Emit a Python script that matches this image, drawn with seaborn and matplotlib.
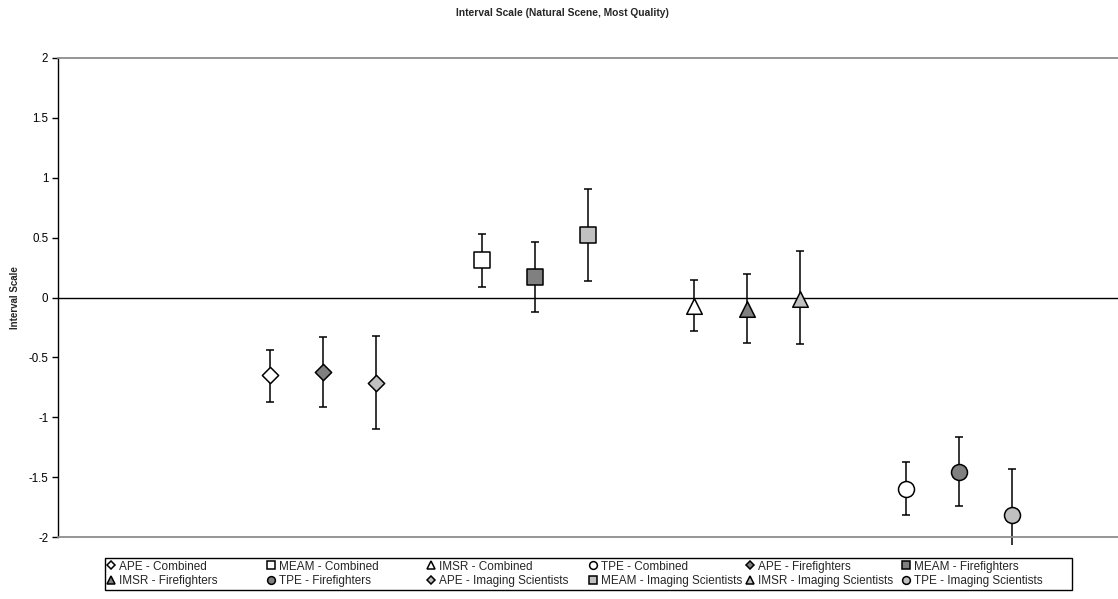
import numpy as np
import pandas as pd
import matplotlib
matplotlib.use("Agg")
import matplotlib.pyplot as plt
import seaborn as sns
from matplotlib.lines import Line2D
from matplotlib.patches import Rectangle
from matplotlib.transforms import Bbox, TransformedBbox

# ---- data ----
methods = ["APE", "MEAM", "IMSR", "TPE"]
groups = ["Combined", "Firefighters", "Imaging Scientists"]
mean_combined = [-0.65, 0.315, -0.07, -1.60]
upper_combined = [-0.437, 0.53, 0.15, -1.375]
lower_combined = [-0.874, 0.09, -0.28, -1.818]
mean_firefighters = [-0.62, 0.17, -0.10, -1.456]
upper_firefighters = [-0.33, 0.46, 0.20, -1.167]
lower_firefighters = [-0.913, -0.12, -0.38, -1.745]
mean_scientists = [-0.71, 0.526, -0.01, -1.815]
upper_scientists = [-0.32, 0.91, 0.385, -1.428]
lower_scientists = [-1.097, 0.14, -0.39, -2.20]
y_ticks = [-2, -1.5, -1, -0.5, 0, 0.5, 1, 1.5, 2]
y_tick_labels = ["-2", "-1.5", "-1", "-0.5", "0", "0.5", "1", "1.5", "2"]

means = [mean_combined, mean_firefighters, mean_scientists]
uppers = [upper_combined, upper_firefighters, upper_scientists]
lowers = [lower_combined, lower_firefighters, lower_scientists]

rows = []
for j, g in enumerate(groups):
    for i, m in enumerate(methods):
        rows.append(dict(method=m, group=g, x=1 + 4 * i + j,
                         y=means[j][i], lo=lowers[j][i], hi=uppers[j][i]))
df = pd.DataFrame(rows)

markers = {"APE": "D", "MEAM": "s", "IMSR": "^", "TPE": "o"}
msize = {"APE": 8.3, "MEAM": 11, "IMSR": 11.2, "TPE": 11.5}
fills = {"Combined": "#ffffff", "Firefighters": "#808080", "Imaging Scientists": "#c0c0c0"}

sns.set_theme(style="white")
plt.rcParams["font.family"] = ["Liberation Sans", "DejaVu Sans"]

fig = plt.figure(figsize=(11.18, 5.99), dpi=100)
ax = fig.add_axes([58 / 1118, 62 / 599, 1 - 58 / 1118, (537 - 58) / 599])
ax.set_xlim(-3, 17)
ax.set_ylim(-2, 2)

clip = TransformedBbox(Bbox([[-3, -2.065], [17, 2.5]]), ax.transData)

for _, r in df.iterrows():
    cont = ax.errorbar(r.x, r.y, yerr=[[r.y - r.lo], [r.hi - r.y]], fmt="none",
                       ecolor="black", elinewidth=1.1, capsize=3.2, capthick=1.1, zorder=2)
    for art in list(cont.lines[1]) + list(cont.lines[2]):
        art.set_clip_on(True)
        art.set_clip_box(clip)

for (m, g), sub in df.groupby(["method", "group"], sort=False):
    sns.scatterplot(data=sub, x="x", y="y", ax=ax, marker=markers[m],
                    s=msize[m] ** 2, color=fills[g], edgecolor="black",
                    linewidth=1.1, zorder=3, legend=False)

ax.axhline(0, color="black", lw=1, zorder=1)
ax.spines["right"].set_visible(False)
ax.spines["left"].set_color("black")
ax.spines["left"].set_linewidth(1)
ax.spines["top"].set_color("#8c8c8c")
ax.spines["top"].set_linewidth(1.3)
ax.spines["bottom"].set_color("#8c8c8c")
ax.spines["bottom"].set_linewidth(1.3)
ax.set_xticks([])
ax.set_yticks(y_ticks)
ax.set_yticklabels(y_tick_labels, fontsize=8.3)
ax.tick_params(axis="y", left=True, direction="out", length=4, width=1, pad=3, colors="black")
ax.set_xlabel("")
ax.set_ylabel("Interval Scale", fontsize=7, fontweight="bold", labelpad=14)
ax.yaxis.set_label_coords(-38 / 1060, 0.5)

fig.text(562 / 1118, 1 - 13 / 599, "Interval Scale (Natural Scene, Most Quality)",
         ha="center", va="center", fontsize=7.4, fontweight="bold")

# ---- legend: 6 equal-width columns, 2 rows ----
entries = []
for g in groups:
    for m in methods:
        entries.append((m, g))
ncol = 6
col_x = [106, 266, 426, 588, 745, 901]
for c in range(ncol):
    hs, ls = [], []
    for rrow in range(2):
        m, g = entries[rrow * ncol + c]
        lm = {"APE": 4.0, "MEAM": 5.4, "IMSR": 5.6, "TPE": 5.6}[m]
        hs.append(Line2D([], [], ls="none", marker=markers[m], markersize=lm,
                         markerfacecolor=fills[g], markeredgecolor="black", markeredgewidth=1.1))
        ls.append(f"{m} - {g}")
    fig.legend(hs, ls, loc="center left", bbox_to_anchor=(col_x[c] / 1118, 1 - 574 / 599),
               frameon=False, fontsize=8.5, handlelength=0.9, handletextpad=0.2,
               borderpad=0, borderaxespad=0, labelspacing=0.25)
fig.patches.append(Rectangle((105 / 1118, 1 - 590 / 599), (1072 - 105) / 1118, 32 / 599,
                             transform=fig.transFigure, fill=False, ec="black", lw=1))

fig.savefig("out.png", dpi=100)
